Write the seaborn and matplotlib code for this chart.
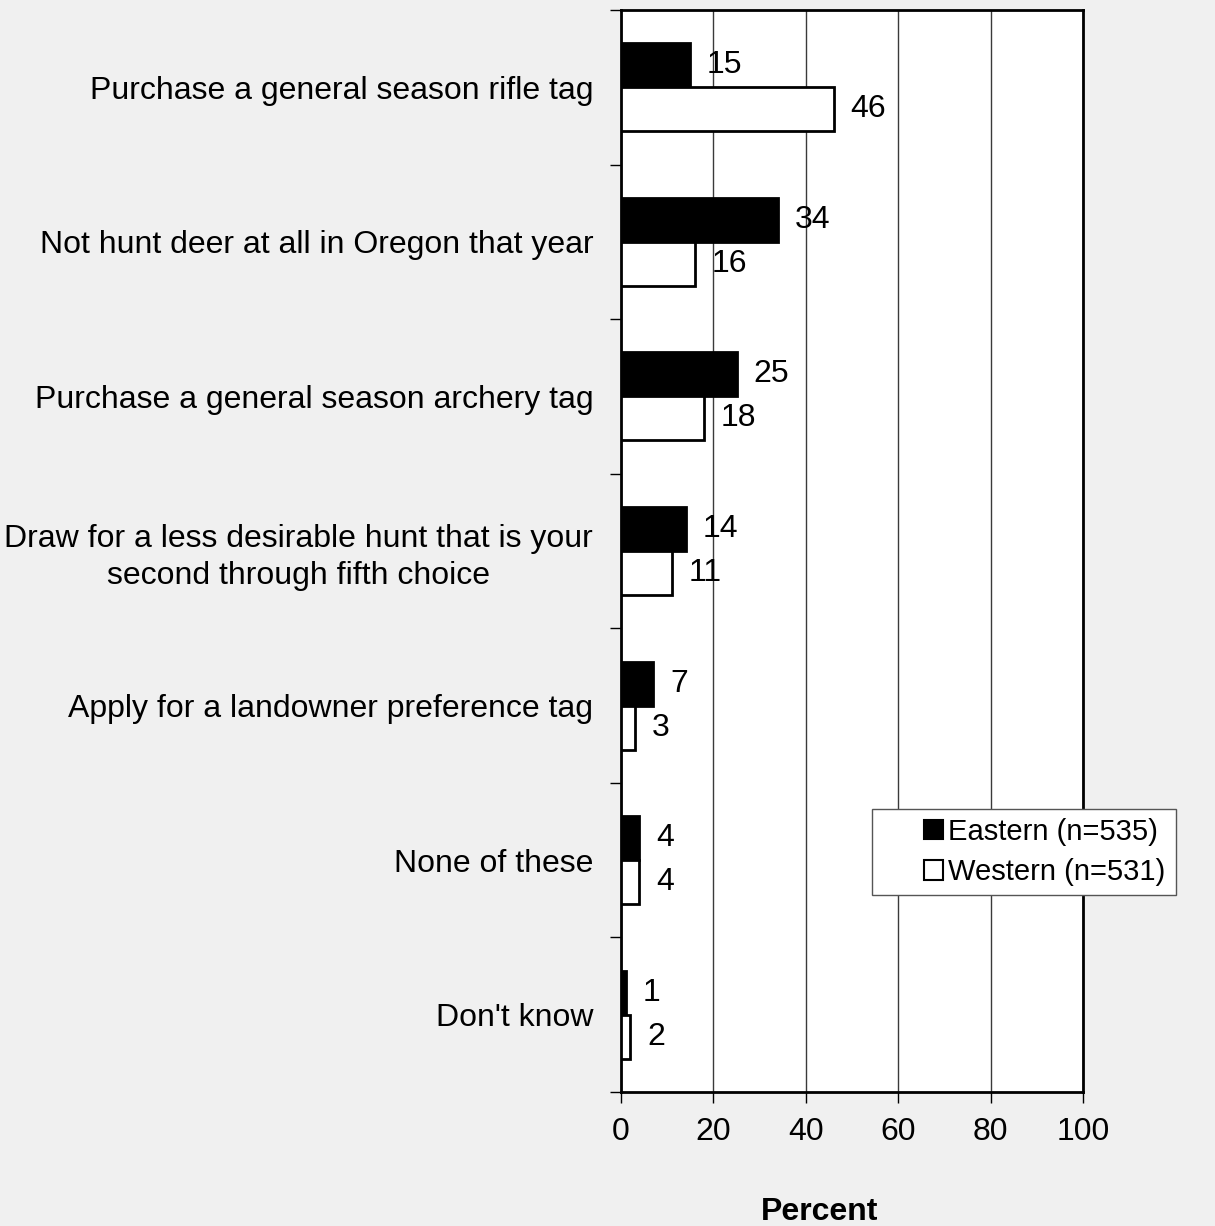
import numpy as np
import pandas as pd
import matplotlib
from matplotlib import pyplot as plt
from matplotlib.patches import Rectangle
from matplotlib.ticker import FixedLocator
import seaborn as sns

categories = [
    "Purchase a general season rifle tag",
    "Not hunt deer at all in Oregon that year",
    "Purchase a general season archery tag",
    "Draw for a less desirable hunt that is your\nsecond through fifth choice",
    "Apply for a landowner preference tag",
    "None of these",
    "Don't know",
]
eastern = [15, 34, 25, 14, 7, 4, 1]
western = [46, 16, 18, 11, 3, 4, 2]
groups = ["Eastern (n=535)", "Western (n=531)"]
x_ticks = [0, 20, 40, 60, 80, 100]

sns.set_style("white")
plt.rcParams['font.family'] = ['Liberation Sans', 'DejaVu Sans']
plt.rcParams['font.size'] = 23
for k in ['text.color', 'axes.labelcolor', 'xtick.color', 'ytick.color']:
    plt.rcParams[k] = 'black'

df = pd.DataFrame({
    "category": categories * 2,
    "group": [groups[0]] * len(categories) + [groups[1]] * len(categories),
    "percent": eastern + western,
})

fig = plt.figure(figsize=(12.15, 12.26), dpi=100, facecolor="#f0f0f0")
ax = fig.add_axes([621/1215, 1 - 1092/1226, 462/1215, 1082/1226])
ax.set_facecolor("white")

sns.barplot(data=df, y="category", x="percent", hue="group", orient="h",
            palette=["black", "white"], width=0.57, edgecolor="black",
            linewidth=2, ax=ax, zorder=3)

for cont in ax.containers:
    ax.bar_label(cont, labels=[f"{v:.0f}" for v in cont.datavalues],
                 padding=12, fontsize=23, zorder=4)

ax.set_xlim(0, 100)
ax.set_ylim(len(categories) - 0.5, -0.5)
ax.xaxis.set_major_locator(FixedLocator(x_ticks))
ax.grid(axis="x", color="#3a3a3a", linewidth=1, zorder=0)
ax.grid(axis="y", visible=False)

# category boundaries as outward ticks, labels centered without ticks
ax.yaxis.set_minor_locator(FixedLocator(np.arange(-0.5, len(categories), 1)))
ax.tick_params(axis="y", which="minor", length=8, width=1, direction="out", left=True)
ax.tick_params(axis="y", which="major", length=0, pad=20, labelsize=23)
ax.tick_params(axis="x", which="major", length=8, width=1, direction="out",
               bottom=True, pad=10, labelsize=23)
for lbl in ax.get_yticklabels():
    lbl.set_multialignment("center")
    lbl.set_linespacing(1.3)

for s in ax.spines.values():
    s.set_linewidth(2)
    s.set_color("black")

ax.set_ylabel("")
ax.set_xlabel("Percent", fontweight="bold", fontsize=23)
ax.xaxis.set_label_coords(0.43, -0.097)

# legend box drawn separately so the wide left margin matches
box = Rectangle((872/1215, 1 - 895/1226), 304/1215, 86/1226, transform=fig.transFigure,
                facecolor="white", edgecolor="#555555", linewidth=1, zorder=5, clip_on=False)
ax.add_patch(box)

handles, labels = ax.get_legend_handles_labels()
leg = ax.legend(handles, labels, loc="upper left", bbox_to_anchor=(924/1215, 1 - 818/1226),
                bbox_transform=fig.transFigure, frameon=False, fontsize=21,
                handlelength=0.65, handleheight=0.65, handletextpad=0.18,
                borderpad=0, labelspacing=0.42, borderaxespad=0)
leg.set_zorder(6)
for h in leg.legend_handles:
    h.set_linewidth(1.5)

plt.savefig("out.png", dpi=100, facecolor=fig.get_facecolor())
